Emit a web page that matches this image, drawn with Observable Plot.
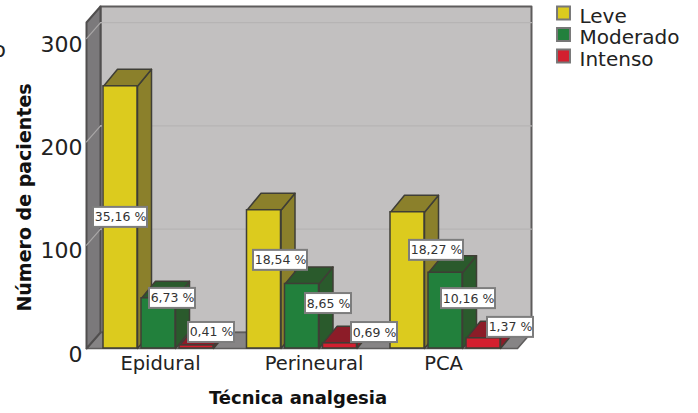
<!DOCTYPE html>
<html lang="es">
<head>
<meta charset="utf-8">
<title>Número de pacientes por técnica analgésica</title>
<script src="https://cdn.jsdelivr.net/npm/d3@7"></script>
<script src="https://cdn.jsdelivr.net/npm/@observablehq/plot@0.6"></script>
<style>
  html, body { margin: 0; background: #fff; }
  svg { display: block; }
</style>
</head>
<body>
<div id="chart"></div>
<script>
// Pain intensity per analgesic technique, as a share of all patients.
const categories = ["Epidural", "Perineural", "PCA"];
const severities = ["Leve", "Moderado", "Intenso"];
const leve = [35.16, 18.54, 18.27];
const moderado = [6.73, 8.65, 10.16];
const intenso = [0.41, 0.69, 1.37];
const totalPatients = 722;
const yTicks = [0, 100, 200, 300];
const series = [leve, moderado, intenso];

// Face colours per severity.
const fronts = ["#dccb1e", "#22803c", "#d31f2f"];
const shades = ["#8b802b", "#2a5a2c", "#8c1c28"];

// Layout: one x unit is a bar slot, y stays in patients.
const slotPx = 38, yPx = 1.033;
const groupStep = 143.5 / slotPx;
const barWidth = 34 / slotPx;
const xMin = -17 / slotPx, xMax = xMin + 431 / slotPx, yMax = 315.6;
const wallDx = 14 / slotPx, wallDy = 16 / yPx;
const barDx = 14 / slotPx, barDy = 17 / yPx;
const edge = "#3f3e36";

// Callout offsets from each bar's centre, in pixels.
const labelOffsets = [
  [[0, 0], [14, -25], [15, -14.5]],
  [[16.5, -19], [26.5, -12.7], [34.5, -13.4]],
  [[29, -30], [23, -12], [27, -16]]
];
const tickNudge = [2, 12, -2];

// A closed polygon drawn through the scales.
const face = (pts, fill, stroke = edge, strokeWidth = 1.5) =>
  Plot.line([...pts, pts[0]].map(([x, y]) => ({x, y})), {x: "x", y: "y", fill, stroke, strokeWidth});

const pctLabel = (v) => v.toFixed(2).replace(".", ",") + " %";

const chamber = [
  face([[xMin + wallDx, wallDy], [xMax + wallDx, wallDy], [xMax + wallDx, yMax + wallDy], [xMin + wallDx, yMax + wallDy]], "#c2c0c0", "#5e5c5c", 2),
  face([[xMin, 0], [xMax, 0], [xMax + wallDx, wallDy], [xMin + wallDx, wallDy]], "#868485", "#5e5c5c", 1.5),
  face([[xMin, 0], [xMin + wallDx, wallDy], [xMin + wallDx, yMax + wallDy], [xMin, yMax]], "#7b797b", "#504e4e", 2)
];

const grid = yTicks.slice(1).flatMap((t) => [
  Plot.line([{x: xMin, y: t}, {x: xMin + wallDx, y: t + wallDy}], {x: "x", y: "y", stroke: "#a9a7a7", strokeWidth: 1.2}),
  Plot.line([{x: xMin + wallDx, y: t + wallDy}, {x: xMax + wallDx, y: t + wallDy}], {x: "x", y: "y", stroke: "#b6b4b4", strokeWidth: 1.2})
]);

// Bars go left to right so that each front covers its neighbour's side.
const bars = categories.flatMap((c, g) => severities.flatMap((s, k) => {
  const v = series[k][g] * totalPatients / 100;
  const x1 = g * groupStep + k, x2 = x1 + barWidth;
  return [
    face([[x2, 0], [x2 + barDx, barDy], [x2 + barDx, v + barDy], [x2, v]], shades[k]),
    face([[x1, v], [x2, v], [x2 + barDx, v + barDy], [x1 + barDx, v + barDy]], shades[k]),
    Plot.rectY([{c, s, x1, x2, v}], {x1: "x1", x2: "x2", y: "v", fill: fronts[k], stroke: edge, strokeWidth: 1.5})
  ];
}));

// Value callouts sit above every bar.
const callouts = categories.flatMap((c, g) => severities.flatMap((s, k) => {
  const pct = series[k][g];
  const v = pct * totalPatients / 100;
  const cx = g * groupStep + k + barWidth / 2, cy = v / 2;
  const [dx, dy] = labelOffsets[g][k];
  const text = pctLabel(pct);
  const half = (text.length > 6 ? 27 : 23) / slotPx;
  const halfY = 10 / yPx;
  return [
    Plot.rect([{}], {x1: cx - half, x2: cx + half, y1: cy - halfY, y2: cy + halfY, dx, dy, fill: "#fff", stroke: "#7d7d7d", strokeWidth: 2}),
    Plot.text([text], {x: cx, y: cy, dx, dy, text: (d) => d, fontSize: 12.5, fill: "#333"})
  ];
}));

const tickLabels = categories.map((c, g) =>
  Plot.text([c], {x: g * groupStep + 1 + barWidth / 2, y: 0, dx: tickNudge[g], dy: 15, text: (d) => d, fontSize: 19.5, fill: "#222"})
);

const legend = severities.flatMap((s, k) => [
  Plot.dot([s], {frameAnchor: "top-right", dx: 46, dy: -9.5 + 21.5 * k, symbol: "square", r: 7.3, fill: fronts[k], stroke: "#777", strokeWidth: 2}),
  Plot.text([s], {frameAnchor: "top-right", dx: 62, dy: -6 + 21.5 * k, text: (d) => d, textAnchor: "start", lineAnchor: "middle", fontSize: 20, fill: "#222"})
]);

const chart = Plot.plot({
  width: 698,
  height: 413,
  marginLeft: 86,
  marginRight: 181,
  marginTop: 22,
  marginBottom: 65,
  style: {fontFamily: "DejaVu Sans", background: "#fff", overflow: "visible"},
  x: {type: "linear", domain: [xMin, xMax], axis: null},
  y: {domain: [0, yMax], axis: null},
  marks: [
    ...chamber,
    ...grid,
    ...bars,
    ...callouts,
    Plot.axisY({ticks: yTicks, tickSize: 0, tickPadding: 4, fontSize: 22, dy: 6, label: null, fill: "#222"}),
    ...tickLabels,
    Plot.text(["Técnica analgesia"], {frameAnchor: "bottom", lineAnchor: "middle", dx: -4, dy: 50, text: (d) => d, fontSize: 18, fontWeight: "bold", fill: "#111"}),
    Plot.text(["Número de pacientes"], {frameAnchor: "left", textAnchor: "middle", dx: -62, dy: 12, rotate: -90, text: (d) => d, fontSize: 19, fontWeight: "bold", fill: "#111"}),
    Plot.text(["o"], {frameAnchor: "top-left", lineAnchor: "middle", dx: -94, dy: 27, text: (d) => d, fontSize: 22, fill: "#222"}),
    ...legend
  ]
});

document.getElementById("chart").append(chart);
</script>
</body>
</html>
